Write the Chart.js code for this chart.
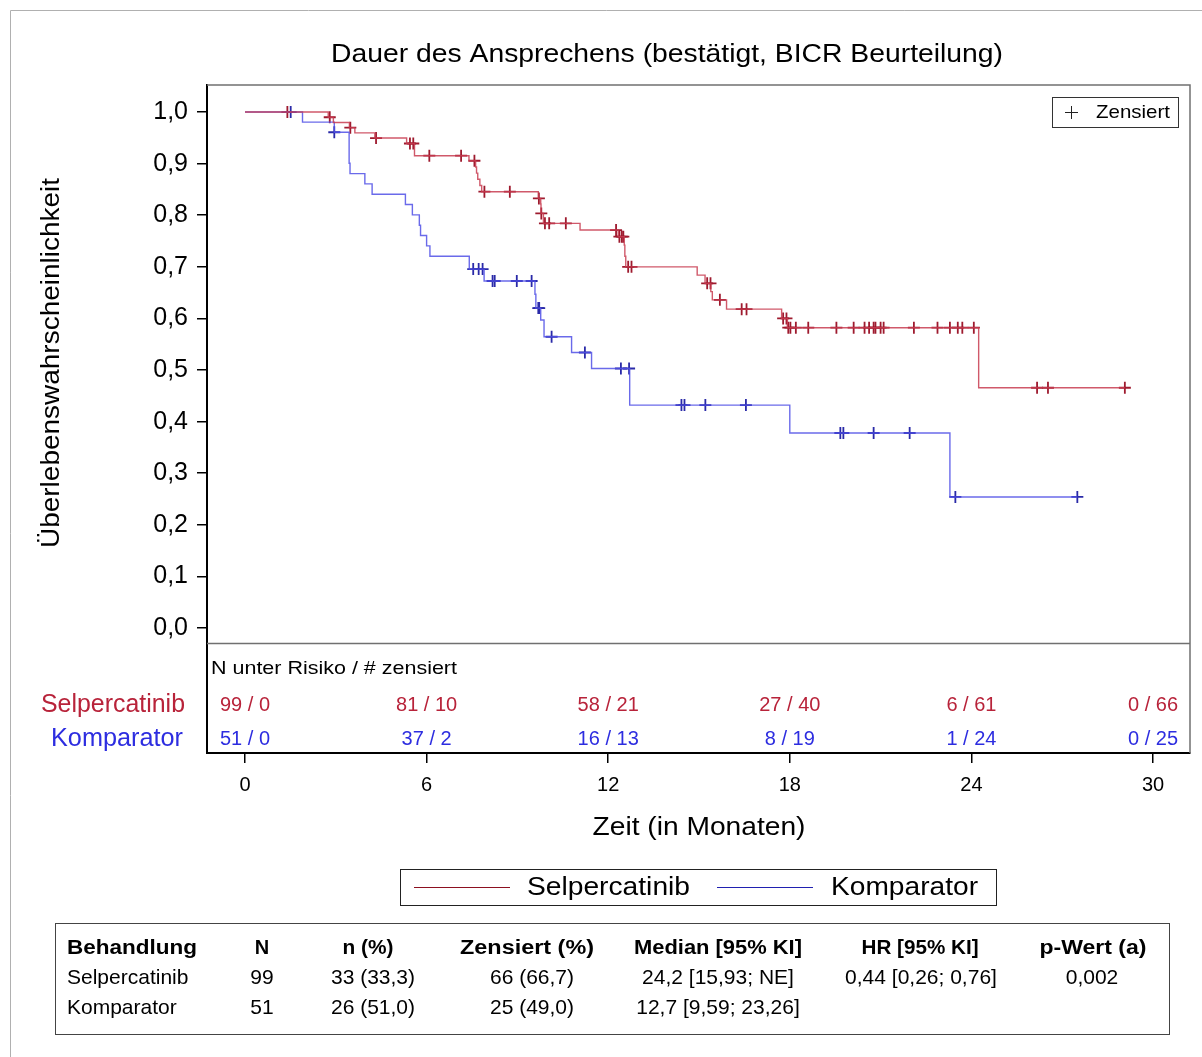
<!DOCTYPE html>
<html>
<head>
<meta charset="utf-8">
<script src="https://cdn.jsdelivr.net/npm/chart.js@4.4.1/dist/chart.umd.min.js"></script>
<style>
  body { margin: 0; background: #fff; }
  #wrap { width: 1202px; height: 1057px; }
</style>
</head>
<body>
<div id="wrap"><canvas id="km" width="1202" height="1057"></canvas></div>
<script>
// Kaplan-Meier steps (time in months, survival after the drop)
const selTimes = [0, 2.75, 2.92, 3.45, 3.63, 4.29, 5.34, 5.6, 7.4, 7.62, 7.65, 7.69, 7.76, 7.82, 9.69, 9.77, 9.78, 9.86, 11.07, 12.33, 12.53, 12.55, 12.58, 14.94, 15.2, 15.39, 15.44, 15.91, 17.73, 17.92, 24.24];
const selSurv = [1, 0.9899, 0.9797, 0.9697, 0.9596, 0.9496, 0.939, 0.9154, 0.9056, 0.8936, 0.8816, 0.8696, 0.8576, 0.8456, 0.8326, 0.8217, 0.8036, 0.7843, 0.7713, 0.7584, 0.742, 0.7205, 0.700, 0.684, 0.668, 0.652, 0.636, 0.618, 0.600, 0.582, 0.4657];
const selCens = [1.40, 2.8, 3.48, 4.33, 5.45, 5.56, 6.09, 7.14, 7.58, 7.91, 8.75, 9.71, 9.79, 9.91, 10.05, 10.6, 12.26, 12.37, 12.45, 12.5, 12.66, 12.77, 15.27, 15.38, 15.69, 16.41, 16.57, 17.78, 17.89, 17.95, 18.02, 18.2, 18.61, 19.54, 20.11, 20.47, 20.62, 20.77, 20.83, 21.0, 21.1, 22.1, 22.88, 23.29, 23.55, 23.7, 24.08, 26.17, 26.53, 29.07];

const kompTimes = [0, 1.9, 2.95, 3.44, 3.47, 3.96, 4.2, 5.3, 5.53, 5.76, 5.8, 6.0, 6.11, 7.41, 7.9, 9.58, 9.61, 9.77, 9.88, 10.79, 11.45, 12.71, 18.0, 23.29];
const kompSurv = [1, 0.9804, 0.9608, 0.9007, 0.8807, 0.8607, 0.8407, 0.8207, 0.8007, 0.7807, 0.7607, 0.7407, 0.7206, 0.6956, 0.6725, 0.647, 0.620, 0.597, 0.5645, 0.534, 0.503, 0.432, 0.378, 0.254];
const kompCens = [1.51, 2.95, 7.54, 7.72, 7.85, 8.18, 8.25, 8.98, 9.47, 9.69, 9.72, 10.13, 11.23, 12.42, 12.69, 14.42, 14.52, 15.21, 16.55, 19.67, 19.77, 20.77, 21.96, 23.47, 27.5];

const xTicks = [0, 6, 12, 18, 24, 30];
const yTicks = [0, 0.1, 0.2, 0.3, 0.4, 0.5, 0.6, 0.7, 0.8, 0.9, 1.0];

const riskSel = ['99 / 0', '81 / 10', '58 / 21', '27 / 40', '6 / 61', '0 / 66'];
const riskKomp = ['51 / 0', '37 / 2', '16 / 13', '8 / 19', '1 / 24', '0 / 25'];

const tableHead = ['Behandlung', 'N', 'n (%)', 'Zensiert (%)', 'Median [95% KI]', 'HR [95% KI]', 'p-Wert (a)'];
const tableSel = ['Selpercatinib', '99', '33 (33,3)', '66 (66,7)', '24,2 [15,93; NE]', '0,44 [0,26; 0,76]', '0,002'];
const tableKomp = ['Komparator', '51', '26 (51,0)', '25 (49,0)', '12,7 [9,59; 23,26]', '', ''];

const FONT = '"Liberation Sans", Arial, sans-serif';
const RED_LINE = 'rgba(200,60,80,0.85)';
const RED_MARK = '#9e1a2e';
const RED_TEXT = '#b8233a';
const BLUE_LINE = 'rgba(80,80,230,0.85)';
const BLUE_MARK = '#2a2aa8';
const BLUE_TEXT = '#2d2de0';

function survAt(times, surv, t) {
  let s = surv[0];
  for (let i = 0; i < times.length; i++) {
    if (times[i] <= t) s = surv[i];
  }
  return s;
}

function stepPoints(times, surv, cens) {
  const pts = times.map((t, i) => ({ x: t, y: surv[i] }));
  const end = Math.max(...cens);
  pts.push({ x: end, y: survAt(times, surv, end) });
  return pts;
}

function censPoints(times, surv, cens) {
  return cens.map(t => ({ x: t, y: survAt(times, surv, t) }));
}

// draw text, optionally squeezed to a target width
function txt(ctx, s, x, y, font, color, align, w) {
  ctx.save();
  ctx.font = font;
  ctx.fillStyle = color;
  ctx.textBaseline = 'middle';
  const mw = ctx.measureText(s).width;
  const k = w ? w / mw : 1;
  const realW = mw * k;
  let left = x;
  if (align === 'center') left = x - realW / 2;
  if (align === 'right') left = x - realW;
  ctx.translate(left, y);
  ctx.scale(k, 1);
  ctx.textAlign = 'left';
  ctx.fillText(s, 0, 0);
  ctx.restore();
}

const decor = {
  id: 'decor',
  afterDraw(chart) {
    const ctx = chart.ctx;
    const a = chart.chartArea;
    const xs = chart.scales.x;

    // outer frame
    ctx.save();
    ctx.strokeStyle = '#b0b0b0';
    ctx.lineWidth = 1;
    ctx.beginPath();
    ctx.moveTo(10.5, 1057); ctx.lineTo(10.5, 10.5); ctx.lineTo(1202, 10.5);
    ctx.stroke();

    // plot box top/right + separator of risk table
    ctx.strokeStyle = '#707070';
    ctx.lineWidth = 1.5;
    ctx.beginPath();
    ctx.moveTo(a.left, a.top); ctx.lineTo(a.right, a.top); ctx.lineTo(a.right, a.bottom);
    ctx.moveTo(a.left, 643.5); ctx.lineTo(a.right, 643.5);
    ctx.stroke();
    ctx.restore();

    txt(ctx, 'Dauer des Ansprechens (bestätigt, BICR Beurteilung)', 667, 55, '25px ' + FONT, '#000', 'center', 672);

    // y title
    ctx.save();
    ctx.translate(52, 363);
    ctx.rotate(-Math.PI / 2);
    txt(ctx, 'Überlebenswahrscheinlichkeit', 0, 0, '25px ' + FONT, '#000', 'center', 370);
    ctx.restore();

    txt(ctx, 'Zeit (in Monaten)', 699, 828, '26px ' + FONT, '#000', 'center', 213);

    // censored legend
    ctx.save();
    ctx.strokeStyle = '#333';
    ctx.lineWidth = 1;
    ctx.strokeRect(1052.5, 97.5, 126, 30);
    ctx.strokeStyle = '#222';
    ctx.beginPath();
    ctx.moveTo(1065, 112.5); ctx.lineTo(1078, 112.5);
    ctx.moveTo(1071.5, 106); ctx.lineTo(1071.5, 119);
    ctx.stroke();
    ctx.restore();
    txt(ctx, 'Zensiert', 1096, 113, '19px ' + FONT, '#000', 'left', 74);

    // number at risk
    txt(ctx, 'N unter Risiko / # zensiert', 211, 669, '19px ' + FONT, '#000', 'left', 246);
    txt(ctx, 'Selpercatinib', 185, 705, '25px ' + FONT, RED_TEXT, 'right', 144);
    txt(ctx, 'Komparator', 183, 739, '25px ' + FONT, BLUE_TEXT, 'right', 132);
    xTicks.forEach((t, i) => {
      const px = xs.getPixelForValue(t);
      txt(ctx, riskSel[i], px, 705, '20px ' + FONT, RED_TEXT, 'center');
      txt(ctx, riskKomp[i], px, 739, '20px ' + FONT, BLUE_TEXT, 'center');
    });

    // series legend
    ctx.save();
    ctx.strokeStyle = '#222';
    ctx.lineWidth = 1;
    ctx.strokeRect(400.5, 869.5, 596, 36);
    ctx.lineWidth = 1.2;
    ctx.strokeStyle = '#8c1020';
    ctx.beginPath(); ctx.moveTo(414, 887.5); ctx.lineTo(510, 887.5); ctx.stroke();
    ctx.strokeStyle = '#2020b0';
    ctx.beginPath(); ctx.moveTo(717, 887.5); ctx.lineTo(813, 887.5); ctx.stroke();
    ctx.restore();
    txt(ctx, 'Selpercatinib', 527, 888, '25px ' + FONT, '#000', 'left', 163);
    txt(ctx, 'Komparator', 831, 888, '25px ' + FONT, '#000', 'left', 147);

    // summary table
    ctx.save();
    ctx.strokeStyle = '#444';
    ctx.lineWidth = 1;
    ctx.strokeRect(55.5, 923.5, 1114, 111);
    ctx.restore();
    const colX = [67, 262, 368, 527, 718, 920, 1093];
    const headW = [130, 0, 51, 134, 168, 117, 107];
    tableHead.forEach((s, i) => {
      txt(ctx, s, colX[i], 948, 'bold 20px ' + FONT, '#000', i === 0 ? 'left' : 'center', headW[i] || undefined);
    });
    const cellX = [67, 262, 373, 532, 718, 921, 1092];
    [tableSel, tableKomp].forEach((row, r) => {
      row.forEach((s, i) => {
        if (!s) return;
        txt(ctx, s, cellX[i], 978 + r * 30, '21px ' + FONT, '#000', i === 0 ? 'left' : 'center');
      });
    });
  }
};

new Chart(document.getElementById('km'), {
  type: 'scatter',
  data: {
    datasets: [
      {
        label: 'Selpercatinib',
        data: stepPoints(selTimes, selSurv, selCens),
        showLine: true,
        stepped: 'before',
        borderColor: RED_LINE,
        borderWidth: 1.4,
        pointRadius: 0
      },
      {
        label: 'Komparator',
        data: stepPoints(kompTimes, kompSurv, kompCens),
        showLine: true,
        stepped: 'before',
        borderColor: BLUE_LINE,
        borderWidth: 1.4,
        pointRadius: 0
      },
      {
        label: 'Selpercatinib zensiert',
        data: censPoints(selTimes, selSurv, selCens),
        pointStyle: 'cross',
        pointRadius: 6,
        borderColor: RED_MARK,
        borderWidth: 1.8
      },
      {
        label: 'Komparator zensiert',
        data: censPoints(kompTimes, kompSurv, kompCens),
        pointStyle: 'cross',
        pointRadius: 6,
        borderColor: BLUE_MARK,
        borderWidth: 1.8
      }
    ]
  },
  options: {
    responsive: false,
    animation: false,
    layout: { padding: { top: 85, right: 12, left: 0, bottom: 0 } },
    plugins: { legend: { display: false }, tooltip: { enabled: false } },
    scales: {
      x: {
        type: 'linear',
        min: -1.2555,
        max: 31.2225,
        afterFit: s => { s.height = 304; },
        afterBuildTicks: s => { s.ticks = xTicks.map(v => ({ value: v })); },
        grid: { drawOnChartArea: false, tickLength: 10, tickColor: '#000', lineWidth: 1.5 },
        border: { color: '#000', width: 2 },
        ticks: { color: '#000', font: { family: FONT, size: 20 }, padding: 10, maxRotation: 0 }
      },
      y: {
        type: 'linear',
        min: -0.2422,
        max: 1.0524,
        afterFit: s => { s.width = 207; },
        afterBuildTicks: s => { s.ticks = yTicks.map(v => ({ value: v })); },
        grid: { drawOnChartArea: false, tickLength: 10, tickColor: '#000', lineWidth: 1.5 },
        border: { color: '#000', width: 2 },
        ticks: {
          color: '#000',
          font: { family: FONT, size: 25 },
          padding: 9,
          callback: v => v.toFixed(1).replace('.', ',')
        }
      }
    }
  },
  plugins: [decor]
});
</script>
</body>
</html>
